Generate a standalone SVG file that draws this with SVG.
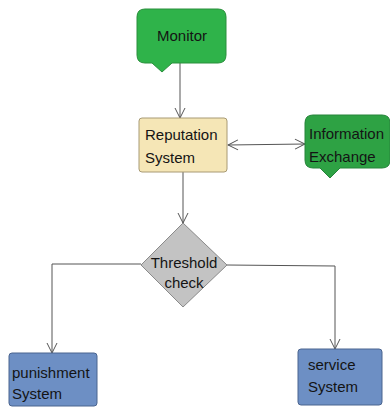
<svg xmlns="http://www.w3.org/2000/svg" width="390" height="407" viewBox="0 0 390 407">
<style>
text{font-family:"Liberation Sans",Arial,sans-serif;font-size:15px;fill:#141414}
.ln{fill:none;stroke:#555;stroke-width:1}
.green{fill:#2fb34a;stroke:#2a8f3c;stroke-width:1}
.green2{fill:#2ea244;stroke:#26843a;stroke-width:1}
</style>
<defs>
<marker id="arr" viewBox="0 0 12 12" refX="11" refY="6" markerWidth="12" markerHeight="12" markerUnits="userSpaceOnUse" orient="auto-start-reverse">
<path d="M1,1 L11,6 L1,11" fill="none" stroke="#555" stroke-width="1"/>
</marker>
</defs>
<rect width="390" height="407" fill="#fff"/>
<g id="connectors">
<line class="ln" x1="180" y1="63" x2="180" y2="118" marker-end="url(#arr)"/>
<line class="ln" x1="228" y1="145" x2="305" y2="144" marker-start="url(#arr)" marker-end="url(#arr)"/>
<line class="ln" x1="183" y1="172" x2="183" y2="223" marker-end="url(#arr)"/>
<polyline class="ln" points="141,264 52,264 52,353" marker-end="url(#arr)"/>
<polyline class="ln" points="227,265 335,266 335,349" marker-end="url(#arr)"/>
</g>
<g id="monitor">
<path class="green" d="M145,9 H218 Q226,9 226,17 V55 Q226,63 218,63 H172 L162,72 L152,63 H145 Q137,63 137,55 V17 Q137,9 145,9 Z"/>
<text x="182" y="41" text-anchor="middle">Monitor</text>
</g>
<g id="reputation">
<rect x="139" y="118" width="88" height="54" rx="3" fill="#f5e6b6" stroke="#a89a74" stroke-width="1"/>
<text x="145" y="140">Reputation</text>
<text x="145" y="163">System</text>
</g>
<g id="information">
<path class="green2" d="M313,115 H382 Q390,115 390,123 V160 Q390,168 382,168 H340 L330,178 L320,168 H313 Q305,168 305,160 V123 Q305,115 313,115 Z"/>
<text x="309" y="139">Information</text>
<text x="309" y="162">Exchange</text>
</g>
<g id="threshold">
<polygon points="183,223 227,265 183,307 141,265" fill="#c3c3c3" stroke="#8a8a8a" stroke-width="1"/>
<text x="184" y="268" text-anchor="middle">Threshold</text>
<text x="184" y="288" text-anchor="middle">check</text>
</g>
<g id="punishment">
<rect x="9" y="353" width="88" height="53" rx="3" fill="#6d8fc4" stroke="#4a648f" stroke-width="1"/>
<text x="12" y="378">punishment</text>
<text x="12" y="399">System</text>
</g>
<g id="service">
<rect x="298" y="349" width="84" height="56" rx="3" fill="#6d8fc4" stroke="#4a648f" stroke-width="1"/>
<text x="308" y="370">service</text>
<text x="308" y="392">System</text>
</g>
</svg>
